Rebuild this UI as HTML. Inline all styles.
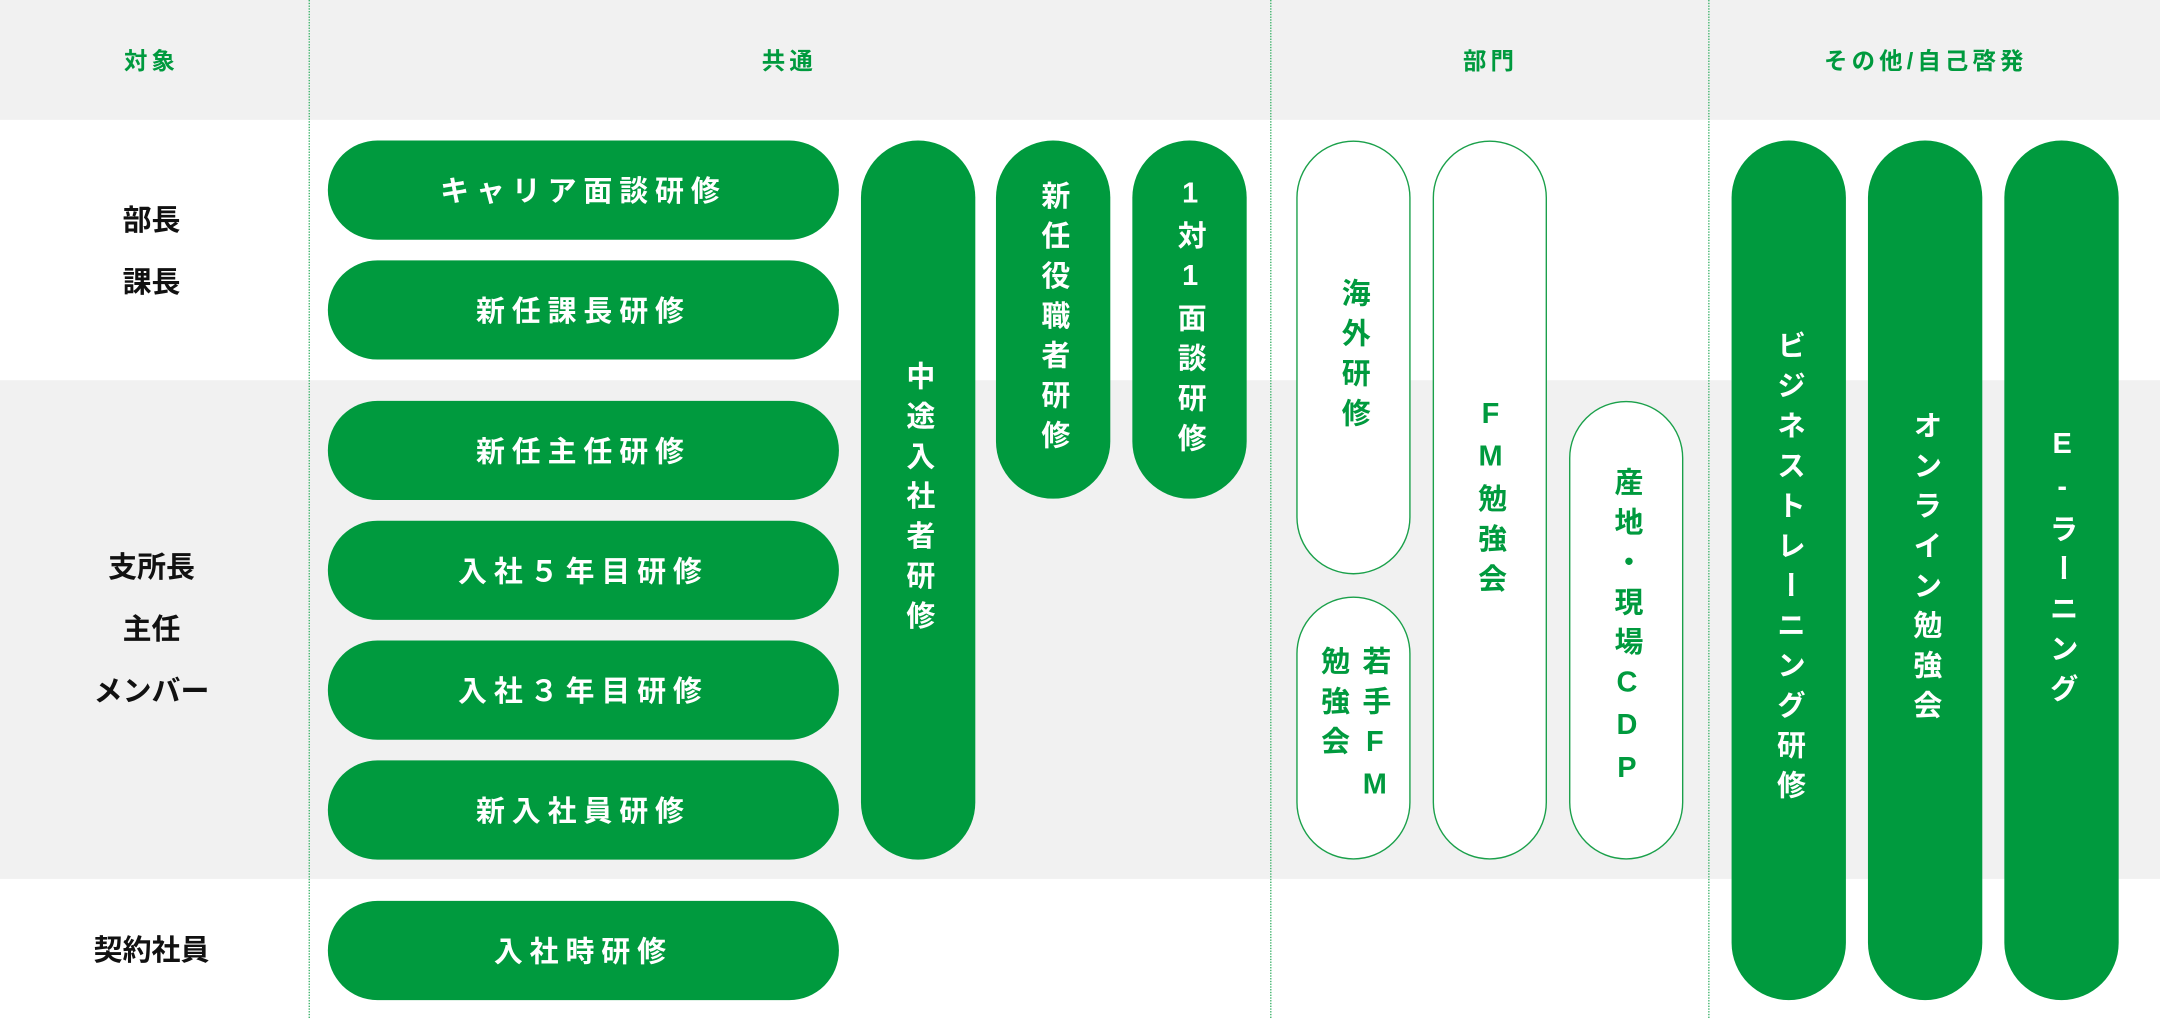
<!DOCTYPE html>
<html><head><meta charset="utf-8"><style>
html,body{margin:0;padding:0;width:2160px;height:1018px;overflow:hidden;background:#fff}
#w{position:absolute;left:0;top:0;width:1568px;height:739px;transform:scale(1.37755);transform-origin:0 0;font-family:"Liberation Sans","Noto Sans CJK JP",sans-serif;font-weight:bold}
.bg{position:absolute;left:0;width:1568px;background:#f1f1f1}
.vl{position:absolute;top:0;height:739px;width:0;border-left:1.5px dotted #3cb36a}
.h{position:absolute;top:30px;color:#009a3e;font-size:17px;letter-spacing:3px;transform:translateX(-50%);white-space:nowrap}
.l{position:absolute;left:110px;transform:translateX(-50%);font-size:21px;color:#111;line-height:45px;text-align:center;white-space:nowrap}
.p{position:absolute;display:flex;align-items:center;justify-content:center;border-radius:42px;background:#009a3e;color:#fff;font-size:21px;box-sizing:border-box}
.hp{left:238px;width:371px;height:72px;border-radius:36px;letter-spacing:5px}
.o{background:#fff;border:1.5px solid #1aa04a;color:#009a3e}
.v{writing-mode:vertical-rl;text-orientation:upright;letter-spacing:8px;line-height:30px}
</style></head><body><div id="w">
<div class="bg" style="top:0;height:87px"></div>
<div class="bg" style="top:276px;height:362px"></div>
<div class="vl" style="left:224px"></div>
<div class="vl" style="left:922px"></div>
<div class="vl" style="left:1240px"></div>
<div class="h" style="left:110px">対象</div>
<div class="h" style="left:573px">共通</div>
<div class="h" style="left:1082px">部門</div>
<div class="h" style="left:1398px">その他/自己啓発</div>
<div class="l" style="top:138px">部長<br>課長</div>
<div class="l" style="top:390px">支所長<br>主任<br>メンバー</div>
<div class="l" style="top:668px">契約社員</div>

<div class="p hp" style="top:102px">キャリア面談研修</div>
<div class="p hp" style="top:189px">新任課長研修</div>
<div class="p hp" style="top:291px">新任主任研修</div>
<div class="p hp" style="top:378px">入社５年目研修</div>
<div class="p hp" style="top:465px">入社３年目研修</div>
<div class="p hp" style="top:552px">新入社員研修</div>
<div class="p hp" style="top:654px">入社時研修</div>

<div class="p" style="left:625px;top:102px;width:83px;height:522px"><span class="v">中途入社者研修</span></div>
<div class="p" style="left:723px;top:102px;width:83px;height:260px"><span class="v">新任役職者研修</span></div>
<div class="p" style="left:822px;top:102px;width:83px;height:260px"><span class="v">1対1面談研修</span></div>

<div class="p o" style="left:941px;top:102px;width:83px;height:315px"><span class="v">海外研修</span></div>
<div class="p o" style="left:941px;top:433px;width:83px;height:191px"><span class="v">若手FM<br>勉強会</span></div>
<div class="p o" style="left:1040px;top:102px;width:83px;height:522px"><span class="v">FM勉強会</span></div>
<div class="p o" style="left:1139px;top:291px;width:83px;height:333px"><span class="v">産地・現場CDP</span></div>

<div class="p" style="left:1257px;top:102px;width:83px;height:624px"><span class="v">ビジネストレーニング研修</span></div>
<div class="p" style="left:1356px;top:102px;width:83px;height:624px"><span class="v">オンライン勉強会</span></div>
<div class="p" style="left:1455px;top:102px;width:83px;height:624px"><span class="v">E-ラーニング</span></div>
</div></body></html>
